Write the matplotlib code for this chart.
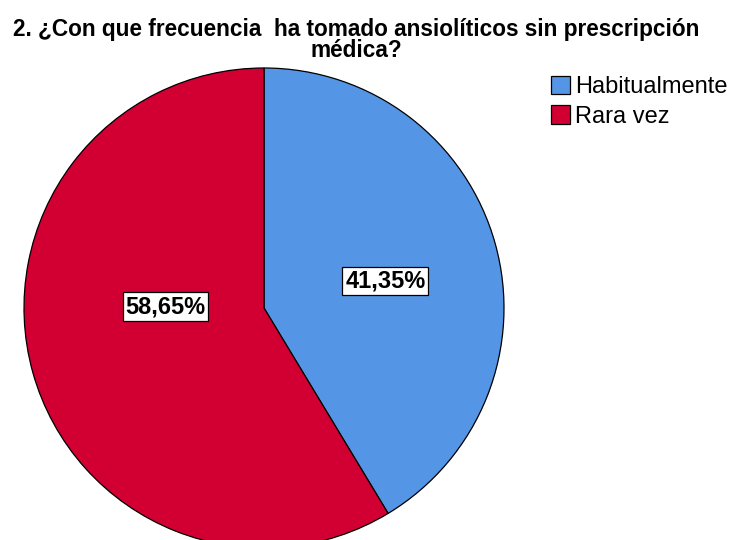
import matplotlib
matplotlib.use("Agg")
import matplotlib.pyplot as plt
from matplotlib.patches import Patch

plt.rcParams['font.family'] = ['Liberation Sans', 'DejaVu Sans']

categorias = ["Habitualmente", "Rara vez"]
porcentajes = [41.35, 58.65]
colores = ["#5595e5", "#d20032"]

fig = plt.figure(figsize=(7.36, 5.4), dpi=100)

# pie axes: 480 px square, centre at (264, 308) px from top-left
ax = fig.add_axes([24 / 736, -8 / 540, 480 / 736, 480 / 540])
wedges, textos = ax.pie(porcentajes, colors=colores, startangle=90, counterclock=False,
                        radius=1.0, wedgeprops=dict(edgecolor="black", linewidth=0.9))
ax.set_xlim(-1, 1)
ax.set_ylim(-1, 1)
ax.set_aspect("equal")
ax.axis("off")

# percentage labels in white boxes, placed inside each slice
pos_etiquetas = [(0.506, 0.113), (-0.41, 0.005)]
for valor, (x, y) in zip(porcentajes, pos_etiquetas):
    ax.text(x, y, f"{valor:.2f}%".replace(".", ","), ha="center", va="center",
            fontsize=17, fontweight="bold", color="black",
            bbox=dict(boxstyle="square,pad=0.12", facecolor="white", edgecolor="black", linewidth=0.9))

fig.suptitle("2. ¿Con que frecuencia  ha tomado ansiolíticos sin prescripción\nmédica?",
             x=356 / 736, y=1 - 18 / 540, fontsize=16.3, fontweight="bold", linespacing=0.9)

handles = [Patch(facecolor=c, edgecolor="black", linewidth=0.9) for c in colores]
fig.legend(handles, categorias, loc="upper left", bbox_to_anchor=(537 / 736, 1 - 62 / 540),
           frameon=False, fontsize=17, handlelength=0.8, handleheight=0.8,
           handletextpad=0.2, labelspacing=0.3, borderpad=0.1)

fig.savefig("out.png", dpi=100)
